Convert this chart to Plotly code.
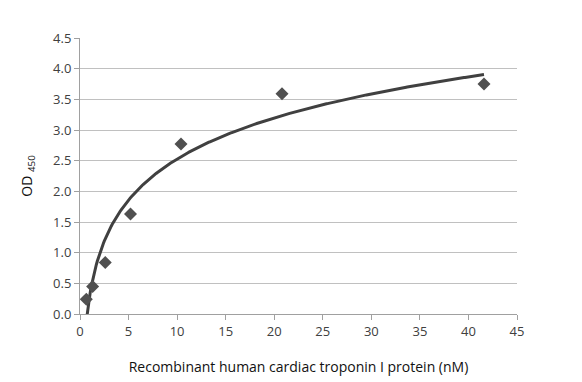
import numpy as np
import plotly.graph_objects as go

conc = [0.65, 1.3, 2.6, 5.2, 10.4, 20.8, 41.6]
od450 = [0.24, 0.45, 0.84, 1.63, 2.77, 3.59, 3.75]
x_ticks = [0, 5, 10, 15, 20, 25, 30, 35, 40, 45]
y_ticks = [0.0, 0.5, 1.0, 1.5, 2.0, 2.5, 3.0, 3.5, 4.0, 4.5]

# logarithmic trendline fitted to the data (like Excel)
a, b = np.polyfit(np.log(conc), od450, 1)
xf = np.linspace(min(conc), max(conc), 400)
yf = a * np.log(xf) + b

fig = go.Figure()
fig.add_trace(go.Scatter(x=xf, y=yf, mode="lines",
                         line=dict(color="#404040", width=3), hoverinfo="skip"))
fig.add_trace(go.Scatter(x=conc, y=od450, mode="markers",
                         marker=dict(symbol="diamond", size=10, color="#505050")))

font = "Open Sans, Liberation Sans, Arial, sans-serif"
fig.update_layout(
    width=582, height=382,
    margin=dict(l=72, r=73, t=30, b=76),
    paper_bgcolor="white", plot_bgcolor="white",
    showlegend=False,
    font=dict(family=font, size=13, color="#404040"),
    xaxis=dict(range=[0, 45], tickvals=x_ticks, ticktext=[str(v) for v in x_ticks],
               showgrid=False, showline=True, linecolor="#a0a0a0", linewidth=1,
               ticks="outside", tickcolor="#a0a0a0", ticklen=5, zeroline=False,
               title=dict(text="Recombinant human cardiac troponin I protein (nM)",
                          font=dict(size=14, color="#111111"), standoff=23)),
    yaxis=dict(range=[0, 4.5], tickvals=y_ticks, ticktext=[f"{v:.1f}" for v in y_ticks],
               showgrid=True, gridcolor="#c0c0c0", gridwidth=1,
               showline=True, linecolor="#a0a0a0", linewidth=1,
               ticks="outside", tickcolor="#a0a0a0", ticklen=5, zeroline=False,
               title=dict(text="OD <sub>450</sub>", font=dict(size=14, color="#111111"),
                          standoff=17)),
)
fig.write_html("out.html")
